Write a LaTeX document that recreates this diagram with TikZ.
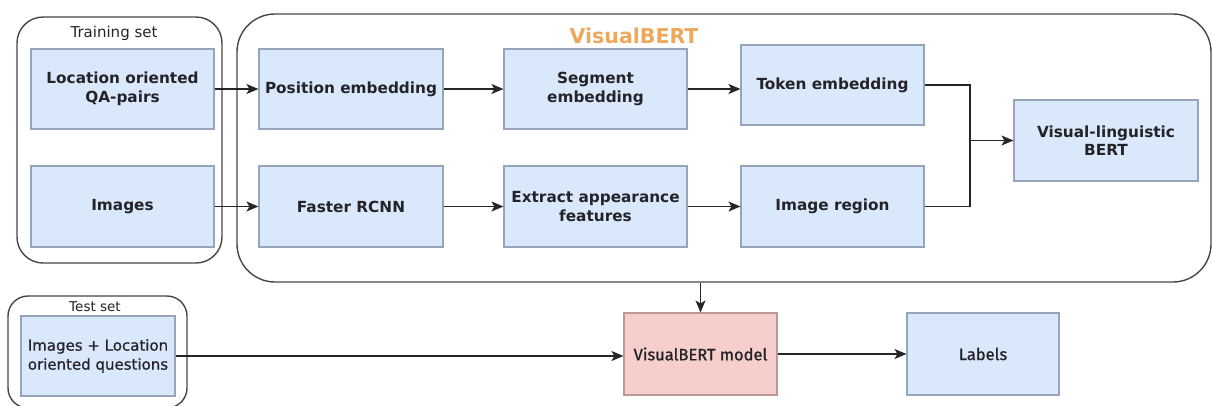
\documentclass[tikz,border=0pt]{standalone}
\usepackage{fontspec}
\usetikzlibrary{arrows.meta}
\newfontfamily\djv{DejaVu Sans}
\newfontfamily\djvmed[FakeBold=0.8]{DejaVu Sans}
\newfontfamily\fira[FakeBold=1]{Fira Sans}
\definecolor{boxfill}{RGB}{218,232,252}
\definecolor{boxline}{RGB}{150,165,185}
\definecolor{redfill}{RGB}{246,206,204}
\definecolor{redline}{RGB}{190,150,150}
\definecolor{frameline}{RGB}{70,70,70}
\definecolor{titleorange}{RGB}{238,168,92}
\definecolor{txt}{RGB}{35,35,40}
\begin{document}
\begin{tikzpicture}[x=1pt,y=-1pt,
  frame/.style={draw=frameline,line width=1.4pt,fill=none},
  blockbox/.style={draw=boxline,line width=1.1pt,fill=boxfill,align=center,
    text=txt,font=\djv\bfseries\fontsize{15.3}{18.5}\selectfont,inner sep=2pt},
  plainbox/.style={blockbox,font=\djvmed\fontsize{15}{19}\selectfont},
  modelbox/.style={draw=redline,line width=1.1pt,fill=redfill,align=center,
    text=txt,font=\fira\fontsize{16.5}{19}\selectfont,inner sep=2pt},
  labelbox/.style={modelbox,draw=boxline,fill=boxfill},
  flow/.style={draw=black!85,line width=1.3pt,-{Stealth[length=12pt,width=10pt,inset=3pt]}},
  link/.style={draw=black!85,line width=1.3pt}
]
\useasboundingbox (0,0) rectangle (1213,405);

% containers
\node[frame,rounded corners=26pt,minimum width=205pt,minimum height=246pt,inner sep=0pt]
  (train) at (119.5,140) {};
\node[frame,rounded corners=38pt,minimum width=974pt,minimum height=268pt,inner sep=0pt]
  (vbert) at (724,148) {};
\node[frame,rounded corners=20pt,minimum width=179pt,minimum height=112pt,inner sep=0pt]
  (test) at (97.5,352) {};

% container titles
\node[font=\djv\fontsize{15}{18}\selectfont,text=txt] (traintitle) at (114,33) {Training set};
\node[font=\djv\bfseries\fontsize{20.5}{24}\selectfont,text=titleorange] (vberttitle) at (634,36) {VisualBERT};
\node[font=\djv\fontsize{13.5}{16}\selectfont,text=txt] (testtitle) at (95,307) {Test set};

% training set inputs
\node[blockbox,minimum width=183pt,minimum height=80pt] (qa) at (122.5,89) {Location oriented\\QA-pairs};
\node[blockbox,minimum width=183pt,minimum height=81pt] (img) at (122.5,206.5) {Images};

% VisualBERT blocks
\node[blockbox,minimum width=184pt,minimum height=80pt] (pos) at (351,89) {Position embedding};
\node[blockbox,minimum width=183pt,minimum height=80pt] (seg) at (595.5,89) {Segment\\embedding};
\node[blockbox,minimum width=183pt,minimum height=80pt] (tok) at (832.5,85) {Token embedding};
\node[blockbox,minimum width=184pt,minimum height=81pt] (rcnn) at (351,206.5) {Faster RCNN};
\node[blockbox,minimum width=183pt,minimum height=81pt] (feat) at (595.5,206.5) {Extract appearance\\features};
\node[blockbox,minimum width=183pt,minimum height=81pt] (reg) at (832.5,206.5) {Image region};
\node[blockbox,minimum width=184pt,minimum height=81pt] (vlb) at (1106,140.5) {Visual-linguistic\\BERT};

% test set and outputs
\node[plainbox,minimum width=154pt,minimum height=80pt] (testin) at (98,356) {Images + Location\\oriented questions};
\node[modelbox,minimum width=153pt,minimum height=82pt] (model) at (700.5,354) {VisualBERT model};
\node[labelbox,minimum width=152pt,minimum height=82pt] (labels) at (983,354) {Labels};

\coordinate (join) at (970,140.5);

% connectors
\draw[flow] (qa.east) -- (pos.west);
\draw[flow] (img.east) -- (rcnn.west);
\draw[flow] (pos.east) -- (seg.west);
\draw[flow] (seg.east) -- (tok.west |- seg.east);
\draw[flow] (rcnn.east) -- (feat.west);
\draw[flow] (feat.east) -- (reg.west);
\draw[link] (tok.east) -| (join);
\draw[link] (reg.east) -| (join);
\draw[flow] (join) -- (vlb.west);
\draw[flow] (vbert.south -| model.north) -- (model.north);
\draw[flow] (testin.east) -- (testin.east -| model.west);
\draw[flow] (model.east) -- (labels.west);
\end{tikzpicture}
\end{document}
